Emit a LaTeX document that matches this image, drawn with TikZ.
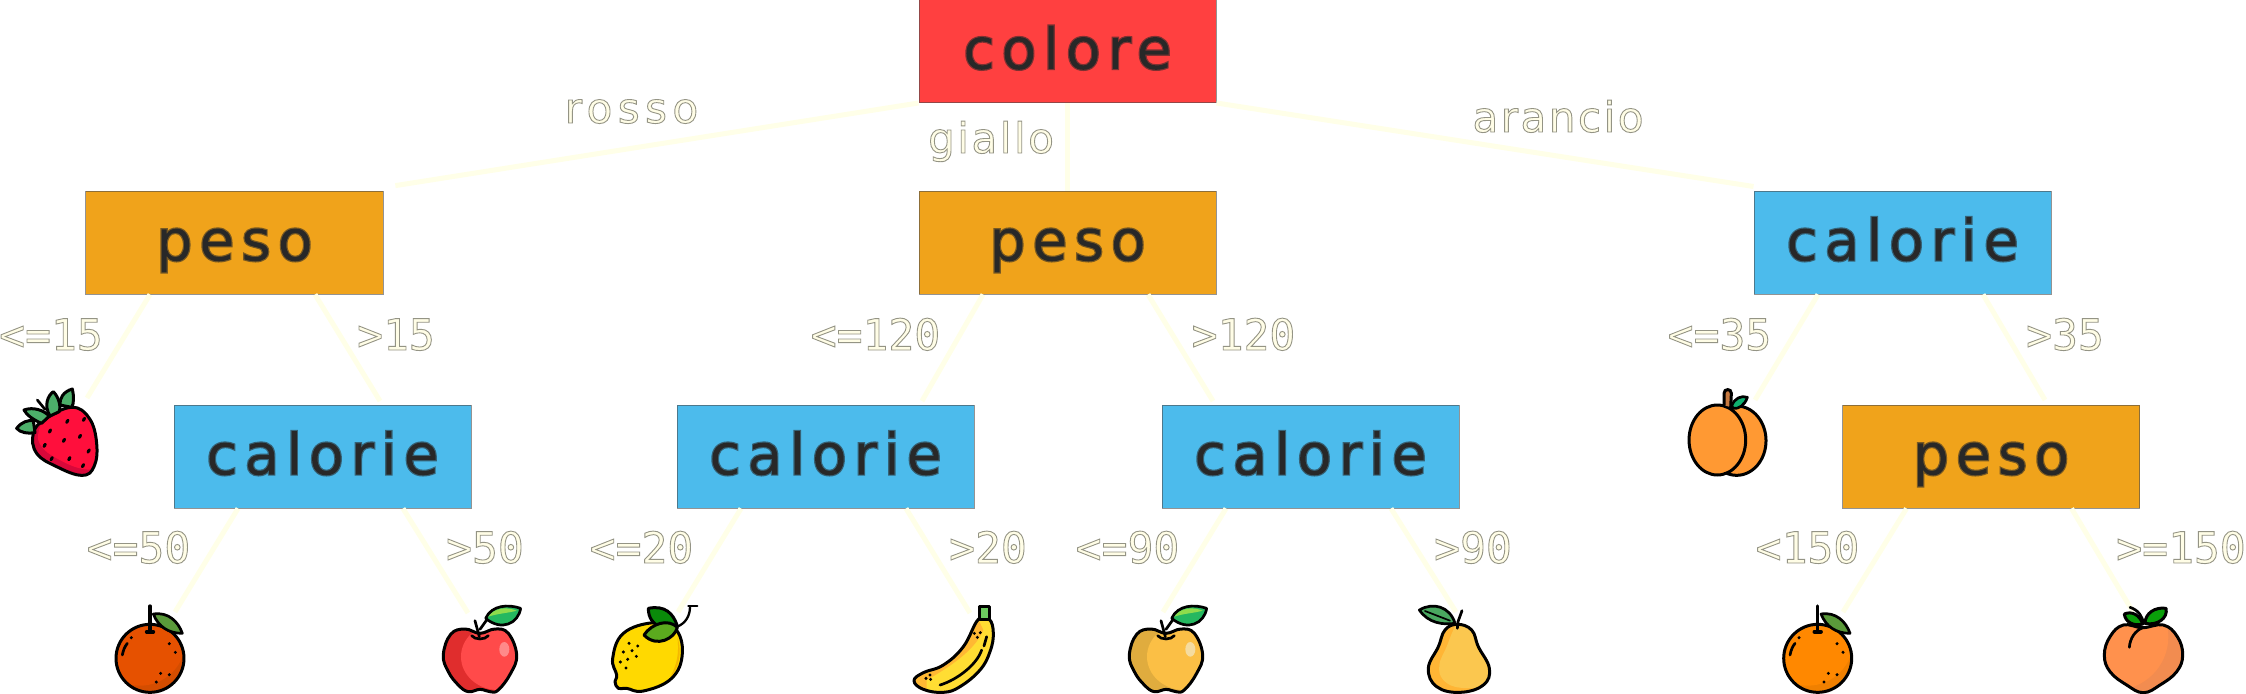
\documentclass[tikz,border=0pt]{standalone}
\usepackage{fontspec}
\usetikzlibrary{calc}
\setmainfont{DejaVu Sans}
\newfontfamily\boxfont[LetterSpace=12]{DejaVu Sans}
\newfontfamily\wordfont[LetterSpace=13]{DejaVu Sans}
\newfontfamily\wordfontB[LetterSpace=6]{DejaVu Sans}
\newfontfamily\numfont{DejaVu Sans Mono}
\definecolor{cRed}{HTML}{FF4040}
\definecolor{cAmber}{HTML}{F0A31B}
\definecolor{cSky}{HTML}{4CBBEC}
\definecolor{cInk}{HTML}{282828}
\definecolor{cPale}{HTML}{FFFDE6}
\definecolor{cLine}{HTML}{FFFFE8}
\definecolor{oA}{HTML}{E65100}\definecolor{oB}{HTML}{D44D00}
\definecolor{oC}{HTML}{FF8800}\definecolor{oD}{HTML}{F08000}
\definecolor{aA}{HTML}{FF4A4A}\definecolor{aB}{HTML}{E02D2D}\definecolor{aH}{HTML}{FF8A8A}
\definecolor{yA}{HTML}{FBBF45}\definecolor{yB}{HTML}{E0AC3E}\definecolor{yH}{HTML}{F5DCA0}
\definecolor{leafO}{HTML}{5A9A3A}\definecolor{leafA}{HTML}{25B860}\definecolor{leafAl}{HTML}{8FDC4C}
\definecolor{lemA}{HTML}{FFD900}\definecolor{lemB}{HTML}{F5B800}
\definecolor{leafLd}{HTML}{0A8A0A}\definecolor{leafLl}{HTML}{5BAA1E}
\definecolor{banA}{HTML}{FFDD33}\definecolor{banB}{HTML}{FFB833}\definecolor{banS}{HTML}{6CCB5F}
\definecolor{prA}{HTML}{FBC74F}\definecolor{prB}{HTML}{FFB535}\definecolor{leafP}{HTML}{4AA860}
\definecolor{pfA}{HTML}{FF9933}\definecolor{stemB}{HTML}{C87A40}\definecolor{leafF}{HTML}{10B070}
\definecolor{prpA}{HTML}{FF914D}\definecolor{prpB}{HTML}{F28C50}\definecolor{leafR}{HTML}{0A9F0A}
\definecolor{stA}{HTML}{FF0F3C}\definecolor{stB}{HTML}{D8083A}\definecolor{leafS}{HTML}{4CAF6A}
\newcommand\solidtxt[1]{\special{pdf:literal direct 2 Tr 2.4 w 0.157 0.157 0.157 RG}#1\special{pdf:literal direct 0 Tr}}
\newcommand\outlinetxt[1]{\special{pdf:literal direct 2 Tr 0.9 w 0.58 0.58 0.52 RG}#1\special{pdf:literal direct 0 Tr}}
\tikzset{
  dbox/.style={draw=black!70,draw opacity=.6,line width=1bp,inner sep=0pt,minimum width=297bp,
    text height=69.5bp,text depth=33.5bp,text=cInk,font=\boxfont\fontsize{57bp}{57bp}\selectfont},
  conn/.style={draw=cLine,line width=5bp},
  numlab/.style={anchor=base,inner sep=0pt,text=cPale,font=\numfont\fontsize{43bp}{43bp}\selectfont},
  wordlab/.style={anchor=base,inner sep=0pt,text=cPale,font=\wordfont\fontsize{42bp}{42bp}\selectfont},
  wordlabB/.style={wordlab,font=\wordfontB\fontsize{42bp}{42bp}\selectfont},
  fr/.style={draw=black,line width=3bp,line join=round,line cap=round},
  ln/.style={draw=black,line width=2.7bp,line cap=round},
  zoomed/.style={x=.33333bp,y=-.33333bp},
}
\newcommand\blobdo[3]{#1[#2] plot[smooth cycle,tension=.7] coordinates {#3};}
\newcommand\appleShape[2]{\blobdo{#1}{#2}{(1170,130) (1215,117) (1255,130) (1280,195) (1262,250) (1225,300) (1200,305) (1170,298) (1135,305) (1105,285) (1075,245) (1060,195) (1082,133) (1125,117)}}
\newcommand\strawShape[2]{\blobdo{#1}{#2}{(135,388) (215,352) (268,385) (290,460) (282,530) (245,556) (170,530) (110,490) (100,430)}}
\newcommand\lemonShape[2]{\blobdo{#1}{#2}{(190,98) (255,115) (277,190) (245,265) (160,303) (110,295) (85,295) (75,275) (80,255) (68,205) (100,130)}}
\newcommand\bananaShape[2]{\blobdo{#1}{#2}{(1165,88) (1198,88) (1210,130) (1200,185) (1170,240) (1110,290) (1060,307) (1000,298) (972,272) (1000,248) (1060,225) (1120,170)}}
\newcommand\pearShape[2]{\blobdo{#1}{#2}{(1072,103) (1115,120) (1135,170) (1168,235) (1150,285) (1080,307) (1010,290) (985,235) (1015,170) (1035,120)}}
\newcommand\peachShape[2]{\blobdo{#1}{#2}{(1178,113) (1240,105) (1282,140) (1298,195) (1280,245) (1230,285) (1180,308) (1130,285) (1080,245) (1063,195) (1080,140) (1120,105)}}
\newcommand\speckles[1]{\foreach \p in {#1} \fill[black] \p circle (5);}
% orange, in 3x crop coordinates (centre 180,205)
\newcommand\orangefruit[4]{\begin{scope}[zoomed,shift={(#1bp,-#2bp)}]
  \fill[#4] (180,205) circle (102);
  \begin{scope}\clip (180,205) circle (102); \fill[#3] (150,150) circle (137); \end{scope}
  \draw[fr] (180,205) circle (102);
  \draw[fr,line width=3.3bp] (180,48) -- (180,125);
  \draw[ln,line width=3.7bp] (170,125) -- (190,125);
  \draw[fr,fill=leafO,line width=2.7bp] (190,72) .. controls (235,65) and (265,95) .. (277,130) .. controls (235,130) and (205,110) .. cycle;
  \draw[ln] (97,195) .. controls (100,180) and (104,170) .. (112,160);
  \speckles{(124,143),(238,161),(256,187),(212,250),(238,254),(199,276)}
\end{scope}}
% apple, in 3x crop coordinates (centre 1170,210)
\newcommand\applefruit[5]{\begin{scope}[zoomed,shift={(#1bp,-#2bp)}]
  \appleShape\fill{#4}
  \begin{scope}\appleShape\clip{} \fill[#3] (1225,200) ellipse (112 and 100); \fill[#3] (1270,260) circle (55); \end{scope}
  \fill[#5] (1243,178) ellipse (15 and 22);
  \appleShape\draw{fr}
  \draw[ln,fill=#3] (1145,137) .. controls (1155,150) and (1185,150) .. (1195,137);
  \draw[ln] (1155,92) -- (1168,140);
  \draw[ln] (1170,118) -- (1190,90);
  \draw[fr,fill=leafA,line width=2.7bp] (1187,85) .. controls (1205,45) and (1255,42) .. (1292,55) .. controls (1285,100) and (1235,125) .. cycle;
  \fill[leafAl] (1195,80) .. controls (1215,52) and (1250,50) .. (1280,62) .. controls (1250,70) and (1225,70) .. cycle;
\end{scope}}
\begin{document}
\begin{tikzpicture}[x=1bp,y=-1bp]
\useasboundingbox (0,0) rectangle (2246,694);
\fill[white] (0,0) rectangle (2246,694);
% decision boxes
\node[dbox,fill=cRed]   (colore) at (1067.5,51)  {\solidtxt{colore}};
\node[dbox,fill=cAmber] (pesoL)  at (234.5,242.5)  {\solidtxt{peso}};
\node[dbox,fill=cAmber] (pesoC)  at (1067.5,242.5) {\solidtxt{peso}};
\node[dbox,fill=cSky]   (calR)   at (1902.5,242.5) {\solidtxt{calorie}};
\node[dbox,fill=cSky]   (calLL)  at (322.5,456.5)  {\solidtxt{calorie}};
\node[dbox,fill=cSky]   (calCL)  at (825.5,456.5)    {\solidtxt{calorie}};
\node[dbox,fill=cSky]   (calCR)  at (1310.5,456.5) {\solidtxt{calorie}};
\node[dbox,fill=cAmber] (pesoR)  at (1991,456.5)   {\solidtxt{peso}};
% free ends of the connectors
\coordinate (tipStraw) at (87,398);
\coordinate (tipPL) at (380,401);
\coordinate (tipCL) at (922,401);
\coordinate (tipCR) at (1213,401);
\coordinate (tipPeach) at (1755,400);
\coordinate (tipPR) at (2045,400);
\coordinate (tipOr) at (175,612);
\coordinate (tipAp) at (468,613);
\coordinate (tipLem) at (678,612);
\coordinate (tipBan) at (970,613);
\coordinate (tipYAp) at (1163,612);
\coordinate (tipPear) at (1456,612);
\coordinate (tipOr2) at (1843,612);
\coordinate (tipPe2) at (2133,612);
\newcommand\connL[2]{\draw[conn] ($(#1.south)+(-84.5,0)$) -- (#2);}
\newcommand\connR[2]{\draw[conn] ($(#1.south)+(80.5,0)$) -- (#2);}
\draw[conn,shorten >=12bp] (colore.south west) -- ($(pesoL.north east)+(0,-3)$);
\draw[conn] (colore.south) -- (pesoC.north);
\draw[conn] (colore.south east) -- ($(calR.north west)+(0,-4)$);
\connL{pesoL}{tipStraw} \connR{pesoL}{tipPL}
\connL{pesoC}{tipCL}    \connR{pesoC}{tipCR}
\connL{calR}{tipPeach}  \connR{calR}{tipPR}
\connL{calLL}{tipOr}    \connR{calLL}{tipAp}
\connL{calCL}{tipLem}   \connR{calCL}{tipBan}
\connL{calCR}{tipYAp}   \connR{calCR}{tipPear}
\connL{pesoR}{tipOr2}   \connR{pesoR}{tipPe2}
% labels
\node[wordlab] (lRosso) at (631.5,123) {\outlinetxt{rosso}};
\node[wordlabB] (lGiallo) at (991,153) {\outlinetxt{giallo}};
\node[wordlabB] (lArancio) at (1558,132) {\outlinetxt{arancio}};
\node[numlab] (l1) at (51,350) {\outlinetxt{<=15}};
\node[numlab] (l2) at (396,350) {\outlinetxt{>15}};
\node[numlab] (l3) at (875.5,350) {\outlinetxt{<=120}};
\node[numlab] (l4) at (1243.5,350) {\outlinetxt{>120}};
\node[numlab] (l5) at (1719.5,350) {\outlinetxt{<=35}};
\node[numlab] (l6) at (2065,350) {\outlinetxt{>35}};
\node[numlab] (l7) at (138.5,563) {\outlinetxt{<=50}};
\node[numlab] (l8) at (485,563) {\outlinetxt{>50}};
\node[numlab] (l9) at (641.5,563) {\outlinetxt{<=20}};
\node[numlab] (l10) at (988,563) {\outlinetxt{>20}};
\node[numlab] (l11) at (1127.5,563) {\outlinetxt{<=90}};
\node[numlab] (l12) at (1473,563) {\outlinetxt{>90}};
\node[numlab] (l13) at (1807.5,563) {\outlinetxt{<150}};
\node[numlab] (l14) at (2181,563) {\outlinetxt{>=150}};
% strawberry
\begin{scope}[zoomed,shift={(0bp,-290bp)}]
  \strawShape\fill{stB}
  \begin{scope}\strawShape\clip{} \blobdo{\fill}{stA}{(140,385) (215,345) (275,385) (295,470) (285,530) (240,535) (170,505) (125,470) (115,430)} \end{scope}
  \strawShape\draw{fr}
  \foreach \q in {(202,394),(252,388),(150,423),(240,439),(192,451),(134,466),(266,483),(155,506),(208,506),(249,527)}
    \fill[black,rotate around={-30:\q}] \q ellipse (5 and 8);
  \draw[ln] (112,330) -- (135,358);
  \draw[fr,fill=leafS] (180,345) .. controls (178,325) and (190,305) .. (217,297) .. controls (222,320) and (222,340) .. (215,352) -- cycle;
  \draw[fr,fill=leafS] (150,378) .. controls (130,345) and (145,315) .. (160,305) .. controls (180,325) and (182,355) .. (178,365) -- cycle;
  \draw[fr,fill=leafS] (105,428) .. controls (85,432) and (60,428) .. (50,415) .. controls (65,395) and (85,390) .. (100,392) -- cycle;
  \draw[fr,fill=leafS] (125,400) .. controls (100,390) and (80,375) .. (72,360) .. controls (100,350) and (130,360) .. (148,378) -- cycle;
\end{scope}
% oranges
\orangefruit{90}{590}{oA}{oB}
\orangefruit{1757.67}{590}{oC}{oD}
% apples
\applefruit{90}{590}{aA}{aB}{aH}
\applefruit{776}{590}{yA}{yB}{yH}
% lemon
\begin{scope}[zoomed,shift={(590bp,-590bp)}]
  \lemonShape\fill{lemA}
  \fill[lemB] (262,140) .. controls (278,190) and (265,240) .. (240,262) .. controls (262,225) and (268,185) .. cycle;
  \lemonShape\draw{fr}
  \draw[ln,line width=2.3bp] (262,110) .. controls (285,100) and (300,80) .. (300,50);
  \draw[ln,line width=2.3bp] (295,48) -- (322,48);
  \draw[fr,fill=leafLd] (262,108) .. controls (250,70) and (225,45) .. (175,55) .. controls (175,85) and (190,100) .. (205,108) -- cycle;
  \draw[fr,fill=leafLl] (162,135) .. controls (185,100) and (235,85) .. (262,112) .. controls (255,145) and (200,175) .. cycle;
  \speckles{(117,160),(143,168),(100,186),(126,182),(139,199),(113,208),(91,216),(108,234)}
\end{scope}
% banana
\begin{scope}[zoomed,shift={(590bp,-590bp)}]
  \bananaShape\fill{banA}
  \begin{scope}\bananaShape\clip{} \fill[banB] (1165,88) -- (1180,120) .. controls (1160,170) and (1100,220) .. (1010,270) -- (1010,310) -- (960,280) -- (1000,230) -- (1120,150) -- cycle; \end{scope}
  \bananaShape\draw{fr}
  \draw[fr,fill=banS] (1167,50) rectangle (1198,88);
  \draw[ln] (1050,285) .. controls (1100,270) and (1160,225) .. (1175,180);
  \draw[ln] (1190,140) -- (1182,168);
  \speckles{(1153,130),(1171,128),(1162,142),(1008,265),(1020,255),(1022,268)}
\end{scope}
% pear
\begin{scope}[zoomed,shift={(1100bp,-590bp)}]
  \pearShape\fill{prB}
  \begin{scope}\pearShape\clip{} \blobdo{\fill}{prA}{(1075,100) (1125,120) (1140,170) (1175,235) (1155,285) (1080,293) (1030,270) (1018,225) (1040,170) (1060,120)} \end{scope}
  \pearShape\draw{fr}
  \draw[ln] (1072,115) -- (1074,95) -- (1086,62);
  \draw[fr,fill=leafP,line width=2.7bp] (958,60) .. controls (1000,35) and (1050,50) .. (1065,100) .. controls (1030,105) and (985,100) .. cycle;
  \draw[ln,line width=1.7bp] (975,63) -- (1050,92);
\end{scope}
% flat peach
\begin{scope}[zoomed,shift={(1660bp,-370bp)}]
  \draw[fr,fill=pfA] (230,212) ellipse (88 and 104);
  \draw[fr,fill=pfA] (172,210) ellipse (85 and 105);
  \draw[line width=3bp,line cap=round,draw=black,fill=stemB] (192,105) -- (192,70) .. controls (192,55) and (214,55) .. (214,70) -- (212,112);
  \draw[fr,fill=leafF,line width=2.7bp] (215,108) .. controls (222,85) and (245,75) .. (262,82) .. controls (255,105) and (235,118) .. (220,115) -- cycle;
\end{scope}
% round peach
\begin{scope}[zoomed,shift={(1750bp,-590bp)}]
  \peachShape\fill{prpB}
  \begin{scope}\peachShape\clip{} \fill[prpA] (1095,140) circle (160); \end{scope}
  \peachShape\draw{fr}
  \draw[fr,fill=leafR] (1178,102) .. controls (1150,110) and (1125,95) .. (1123,72) .. controls (1145,62) and (1170,75) .. cycle;
  \draw[fr,fill=leafR] (1185,100) .. controls (1185,70) and (1215,50) .. (1248,55) .. controls (1255,85) and (1220,108) .. cycle;
  \draw[ln] (1140,52) .. controls (1165,60) and (1178,80) .. (1180,100);
  \draw[ln] (1138,172) .. controls (1140,145) and (1155,122) .. (1178,113);
\end{scope}
\end{tikzpicture}
\end{document}
